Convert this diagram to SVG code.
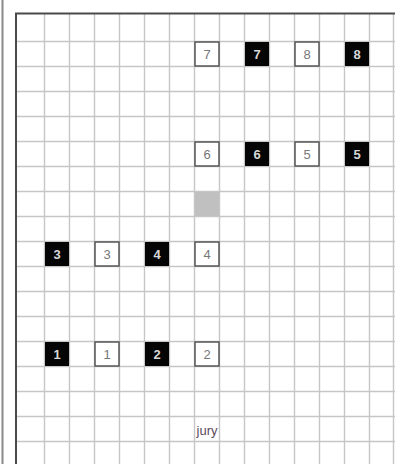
<svg xmlns="http://www.w3.org/2000/svg" width="395" height="464" viewBox="0 0 395 464">
<style>
.grid line{stroke:#c6c6c6;stroke-width:1.4}
.w rect{fill:#fff;stroke:#555;stroke-width:1.5}
.w text{fill:#777;font-family:"Liberation Sans",Arial,sans-serif;font-size:13px;text-anchor:middle}
.b rect{fill:#050505}
.b text{fill:#d8d8d8;font-family:"Liberation Sans",Arial,sans-serif;font-size:13px;font-weight:bold;text-anchor:middle}
</style>
<rect x="0" y="0" width="395" height="464" fill="#fff"/>
<line x1="2.5" y1="0" x2="2.5" y2="464" stroke="#8a8a8a" stroke-width="2"/>
<g class="grid">
<line x1="44.5" y1="14" x2="44.5" y2="464"/><line x1="69.5" y1="14" x2="69.5" y2="464"/><line x1="94.5" y1="14" x2="94.5" y2="464"/><line x1="119.5" y1="14" x2="119.5" y2="464"/><line x1="144.5" y1="14" x2="144.5" y2="464"/><line x1="169.5" y1="14" x2="169.5" y2="464"/><line x1="194.5" y1="14" x2="194.5" y2="464"/><line x1="219.5" y1="14" x2="219.5" y2="464"/><line x1="244.5" y1="14" x2="244.5" y2="464"/><line x1="269.5" y1="14" x2="269.5" y2="464"/><line x1="294.5" y1="14" x2="294.5" y2="464"/><line x1="319.5" y1="14" x2="319.5" y2="464"/><line x1="344.5" y1="14" x2="344.5" y2="464"/><line x1="369.5" y1="14" x2="369.5" y2="464"/><line x1="393.5" y1="14" x2="393.5" y2="464"/>
<line x1="16" y1="41.5" x2="395" y2="41.5"/><line x1="16" y1="66.5" x2="395" y2="66.5"/><line x1="16" y1="91.5" x2="395" y2="91.5"/><line x1="16" y1="116.5" x2="395" y2="116.5"/><line x1="16" y1="141.5" x2="395" y2="141.5"/><line x1="16" y1="166.5" x2="395" y2="166.5"/><line x1="16" y1="191.5" x2="395" y2="191.5"/><line x1="16" y1="216.5" x2="395" y2="216.5"/><line x1="16" y1="241.5" x2="395" y2="241.5"/><line x1="16" y1="266.5" x2="395" y2="266.5"/><line x1="16" y1="291.5" x2="395" y2="291.5"/><line x1="16" y1="316.5" x2="395" y2="316.5"/><line x1="16" y1="341.5" x2="395" y2="341.5"/><line x1="16" y1="366.5" x2="395" y2="366.5"/><line x1="16" y1="391.5" x2="395" y2="391.5"/><line x1="16" y1="416.5" x2="395" y2="416.5"/><line x1="16" y1="441.5" x2="395" y2="441.5"/>
</g>
<path d="M16 464 V13.5 H395" fill="none" stroke="#4a4a4a" stroke-width="2"/>
<g id="w7" class="w"><rect x="195" y="42" width="24" height="24"/><text x="207" y="59">7</text></g>
<g id="b7" class="b"><rect x="245" y="42" width="24" height="24"/><text x="257" y="59">7</text></g>
<g id="w8" class="w"><rect x="295" y="42" width="24" height="24"/><text x="307" y="59">8</text></g>
<g id="b8" class="b"><rect x="345" y="42" width="24" height="24"/><text x="357" y="59">8</text></g>
<g id="w6" class="w"><rect x="195" y="142" width="24" height="24"/><text x="207" y="159">6</text></g>
<g id="b6" class="b"><rect x="245" y="142" width="24" height="24"/><text x="257" y="159">6</text></g>
<g id="w5" class="w"><rect x="295" y="142" width="24" height="24"/><text x="307" y="159">5</text></g>
<g id="b5" class="b"><rect x="345" y="142" width="24" height="24"/><text x="357" y="159">5</text></g>
<g id="gray"><rect x="195" y="192" width="24" height="24" fill="#c0c0c0"/></g>
<g id="b3" class="b"><rect x="45" y="242" width="24" height="24"/><text x="57" y="259">3</text></g>
<g id="w3" class="w"><rect x="95" y="242" width="24" height="24"/><text x="107" y="259">3</text></g>
<g id="b4" class="b"><rect x="145" y="242" width="24" height="24"/><text x="157" y="259">4</text></g>
<g id="w4" class="w"><rect x="195" y="242" width="24" height="24"/><text x="207" y="259">4</text></g>
<g id="b1" class="b"><rect x="45" y="342" width="24" height="24"/><text x="57" y="359">1</text></g>
<g id="w1" class="w"><rect x="95" y="342" width="24" height="24"/><text x="107" y="359">1</text></g>
<g id="b2" class="b"><rect x="145" y="342" width="24" height="24"/><text x="157" y="359">2</text></g>
<g id="w2" class="w"><rect x="195" y="342" width="24" height="24"/><text x="207" y="359">2</text></g>
<g id="jury"><text x="207" y="435" fill="#5a4a5e" font-family="Liberation Sans,Arial,sans-serif" font-size="13" text-anchor="middle">jury</text></g>
</svg>
